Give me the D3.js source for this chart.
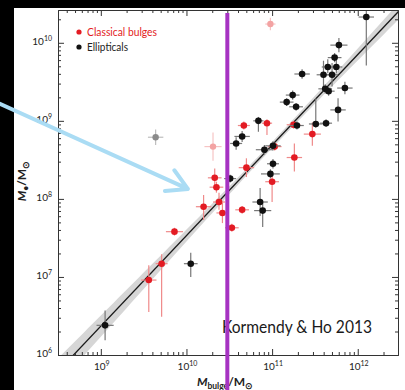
<!DOCTYPE html>
<html><head><meta charset="utf-8">
<script src="https://cdn.jsdelivr.net/npm/d3@7"></script>
<style>html,body{margin:0;padding:0;background:#000;}svg{display:block;}</style>
</head><body><svg id="c" width="405" height="390"></svg>
<script>
// ---- data (log10 values, errors in dex) ----
const ellLogMb = [9.05,10.05,10.58,10.65,10.51,10.84,10.91,11.01,11.01,10.98,10.86,10.89,12.10,11.78,11.73,11.65,11.75,11.35,11.60,11.70,11.85,11.62,11.66,11.24,11.17,11.28,11.77,11.51,11.63,11.29];
const ellLogM  = [6.38,7.17,8.71,8.80,8.26,9.00,8.63,8.68,8.45,8.32,7.96,7.85,10.33,9.97,9.81,9.69,9.69,9.60,9.59,9.59,9.42,9.41,9.38,9.33,9.24,9.18,9.14,8.96,8.97,8.94];
const ellErrX  = [0.10,0.08,0.07,0.09,0.07,0.06,0.10,0.09,0.07,0.11,0.09,0.10,0.09,0.10,0.08,0.07,0.07,0.09,0.08,0.07,0.09,0.08,0.07,0.08,0.08,0.08,0.09,0.08,0.07,0.08];
const ellErrLo = [0.19,0.17,0.08,0.07,0.05,0.14,0.06,0.06,0.06,0.06,0.18,0.21,0.62,0.09,0.06,0.08,0.08,0.06,0.18,0.15,0.08,0.06,0.06,0.06,0.05,0.05,0.15,0.05,0.05,0.05];
const ellErrHi = [0.19,0.14,0.08,0.07,0.05,0.05,0.06,0.06,0.06,0.06,0.18,0.10,0.10,0.09,0.06,0.10,0.10,0.06,0.18,0.15,0.08,0.06,0.06,0.06,0.05,0.05,0.15,0.33,0.05,0.05];

const bulLogMb = [9.56,9.71,9.86,10.20,10.33,10.35,10.38,10.42,10.53,10.65,10.70,10.67,10.94,11.03,11.00,11.26,11.47,11.25];
const bulLogM  = [6.96,7.17,7.58,7.90,8.27,8.15,7.96,7.82,7.63,7.86,8.40,8.94,8.97,8.67,8.22,8.53,8.83,8.95];
const bulErrX  = [0.09,0.07,0.10,0.09,0.08,0.08,0.07,0.07,0.08,0.08,0.09,0.07,0.06,0.08,0.08,0.09,0.10,0.08];
const bulErrLo = [0.41,0.68,0.05,0.17,0.12,0.07,0.10,0.13,0.05,0.05,0.12,0.05,0.15,0.05,0.26,0.18,0.15,0.05];
const bulErrHi = [0.19,0.12,0.05,0.15,0.12,0.07,0.12,0.13,0.05,0.05,0.12,0.05,0.05,0.05,0.12,0.18,0.15,0.05];

const pinkLogMb = [10.98,10.31], pinkLogM = [10.24,8.67], pinkErrX = [0.06,0.10], pinkErrY = [0.08,0.18];
const grayLogMb = [9.64], grayLogM = [8.79], grayErrX = [0.09], grayErrY = [0.10];

const xMajor = [9,10,11,12];
const yMajor = [6,7,8,9,10];
const fitIntercept = 8.69, fitSlope = 1.16, fitPivot = 11;
const bandA = 0.04, bandB = 0.065;
const cutLogMb = Math.log10(3e10);
const legendLabels = ["Classical bulges","Ellipticals"];
const creditText = "Kormendy & Ho 2013";
const arrowFrom = [7.821, 9.218], arrowTo = [10.016, 8.128];

// ---- setup ----
const svg = d3.select("#c");
const W = 405, H = 390;
const L = 58, R = 398, T = 10, B = 355;
const x = d3.scaleLog().domain([10**8.5, 10**12.47]).range([L, R]);
const y = d3.scaleLog().domain([1e6, 10**10.42]).range([B, T]);
const X = lx => x(10**lx), Y = ly => y(10**ly);
const FONT = "Lato, 'Open Sans', sans-serif";

svg.append("rect").attr("width", W).attr("height", H).attr("fill", "#000");
svg.append("rect").attr("x", 14).attr("y", 8).attr("width", W-14).attr("height", H-8).attr("fill", "#fff");

svg.append("clipPath").attr("id","pa").append("rect").attr("x",L).attr("y",T).attr("width",R-L).attr("height",B-T);
const plot = svg.append("g").attr("clip-path","url(#pa)");

// band + fit line
const xs = d3.range(8.4, 12.55, 0.05);
const fit = lx => fitIntercept + fitSlope*(lx - fitPivot);
const half = lx => Math.sqrt(bandA*bandA + (bandB*(lx - fitPivot))**2);
plot.append("path").datum(xs)
  .attr("d", d3.area().x(d => X(d)).y0(d => Y(fit(d)-half(d))).y1(d => Y(fit(d)+half(d))))
  .attr("fill", "#d6d6d6");
plot.append("path").datum([8.4, 12.55])
  .attr("d", d3.line().x(d => X(d)).y(d => Y(fit(d))))
  .attr("stroke", "#1a1a1a").attr("stroke-width", 1.3).attr("fill","none");

function series(lmb, lm, ex, elo, ehi, barColor, dotColor, r) {
  const d = lmb.map((v,i) => ({lx:v, ly:lm[i], ex:ex[i], elo:elo[i], ehi:ehi[i]}));
  const g = plot.append("g");
  g.selectAll(".h").data(d).join("line")
    .attr("x1", p => X(p.lx-p.ex)).attr("x2", p => X(p.lx+p.ex))
    .attr("y1", p => Y(p.ly)).attr("y2", p => Y(p.ly))
    .attr("stroke", barColor).attr("stroke-width", 1.2);
  g.selectAll(".v").data(d).join("line")
    .attr("x1", p => X(p.lx)).attr("x2", p => X(p.lx))
    .attr("y1", p => Y(p.ly-p.elo)).attr("y2", p => Y(p.ly+p.ehi))
    .attr("stroke", barColor).attr("stroke-width", 1.2);
  g.selectAll("circle").data(d).join("circle")
    .attr("cx", p => X(p.lx)).attr("cy", p => Y(p.ly)).attr("r", r)
    .attr("fill", dotColor);
}
series(pinkLogMb, pinkLogM, pinkErrX, pinkErrY, pinkErrY, "#f6c4c4", "#f3a3a3", 3.2);
series(grayLogMb, grayLogM, grayErrX, grayErrY, grayErrY, "#bdbdbd", "#8a8a8a", 3.2);
series(bulLogMb, bulLogM, bulErrX, bulErrLo, bulErrHi, "#ef8a8a", "#e31b23", 3.3);
series(ellLogMb, ellLogM, ellErrX, ellErrLo, ellErrHi, "#777", "#111", 3.3);

// axes
const minor = (lo, hi) => { const a=[]; for (let n=Math.floor(lo); n<=hi; n++) for (let k=2;k<=9;k++){const v=n+Math.log10(k); if(v>lo&&v<hi) a.push(10**v);} return a; };
const xMinor = minor(8.5, 12.47), yMinor = minor(6, 10.42);
const axisStyle = g => { g.select(".domain").attr("stroke","#333").attr("stroke-width",1); g.selectAll(".tick line").attr("stroke","#333"); g.selectAll("text").remove(); };
const axes = [
  [d3.axisBottom(x), `translate(0,${B})`, xMajor, xMinor],
  [d3.axisTop(x), `translate(0,${T})`, xMajor, xMinor],
  [d3.axisLeft(y), `translate(${L},0)`, yMajor, yMinor],
  [d3.axisRight(y), `translate(${R},0)`, yMajor, yMinor]
];
axes.forEach(([ax, tr, maj, mn]) => {
  svg.append("g").attr("transform", tr)
    .call(ax.tickValues(maj.map(v=>10**v)).tickSize(-6).tickSizeOuter(0).tickFormat(""))
    .call(axisStyle);
  svg.append("g").attr("transform", tr)
    .call(ax.tickValues(mn).tickSize(-3).tickSizeOuter(0).tickFormat(""))
    .call(axisStyle);
});

// tick labels
xMajor.forEach(e => {
  const t = svg.append("text").attr("x", X(e)+1).attr("y", 370).attr("text-anchor","middle")
    .attr("font-family", FONT).attr("font-size", 10).attr("fill","#222");
  t.append("tspan").text("10");
  t.append("tspan").attr("dy", -4).attr("font-size", 7).text(e);
});
yMajor.forEach(e => {
  const t = svg.append("text").attr("x", 52).attr("y", Y(e)+2).attr("text-anchor","end")
    .attr("font-family", FONT).attr("font-size", 10).attr("fill","#222");
  t.append("tspan").text("10");
  t.append("tspan").attr("dy", -4).attr("font-size", 7).text(e);
});

// axis titles
const xt = svg.append("text").attr("x", 225).attr("y", 386).attr("text-anchor","middle")
  .attr("font-family", FONT).attr("font-weight","bold").attr("font-size", 12).attr("fill","#222");
xt.append("tspan").attr("font-style","italic").text("M");
xt.append("tspan").attr("font-size", 8.5).attr("dy", 3).text("bulge");
xt.append("tspan").attr("dy", -3).text("/M");
xt.append("tspan").attr("font-size", 8.5).attr("dy", 3).text("⊙");

const yt = svg.append("text").attr("transform","translate(26,181) rotate(-90)").attr("text-anchor","middle")
  .attr("font-family", FONT).attr("font-weight","bold").attr("font-size", 12).attr("fill","#222");
yt.append("tspan").attr("font-style","italic").text("M");
yt.append("tspan").attr("font-size", 8.5).attr("dy", 3).text("•");
yt.append("tspan").attr("dy", -3).text("/M");
yt.append("tspan").attr("font-size", 8.5).attr("dy", 3).text("⊙");

// legend
const legColors = ["#e31b23", "#111"];
legendLabels.forEach((lab, i) => {
  svg.append("circle").attr("cx", 79).attr("cy", 32 + i*15).attr("r", 2.6).attr("fill", legColors[i]);
  svg.append("text").attr("x", 87).attr("y", 36 + i*15).attr("font-family", FONT).attr("font-size", 10.5)
    .attr("fill", i === 0 ? "#e31b23" : "#222")
    .attr("textLength", i === 0 ? 70 : 41).attr("lengthAdjust","spacingAndGlyphs").text(lab);
});

// credit text
svg.append("text").attr("x", 222).attr("y", 333).attr("font-family", FONT).attr("font-size", 16.5)
  .attr("fill","#1a1a1a").attr("textLength", 150).attr("lengthAdjust","spacingAndGlyphs").text(creditText);

// vertical cut line
svg.append("line").attr("x1", X(cutLogMb)).attr("x2", X(cutLogMb)).attr("y1", 13).attr("y2", H)
  .attr("stroke", "#a633c2").attr("stroke-width", 4);

// arrow
const ax0 = X(arrowFrom[0]), ay0 = Y(arrowFrom[1]), ax1 = X(arrowTo[0]), ay1 = Y(arrowTo[1]);
const ang = Math.atan2(ay0 - ay1, ax0 - ax1);
const headLen = 23, spread = 0.52;
const arrowPath = d3.path();
arrowPath.moveTo(ax0, ay0); arrowPath.lineTo(ax1, ay1);
arrowPath.moveTo(ax1 + headLen*Math.cos(ang+spread), ay1 + headLen*Math.sin(ang+spread));
arrowPath.lineTo(ax1, ay1);
arrowPath.lineTo(ax1 + headLen*Math.cos(ang-spread), ay1 + headLen*Math.sin(ang-spread));
svg.append("path").attr("d", arrowPath.toString()).attr("fill","none")
  .attr("stroke", "#aadcf4").attr("stroke-width", 4).attr("stroke-linecap","round").attr("stroke-linejoin","round");
</script></body></html>
